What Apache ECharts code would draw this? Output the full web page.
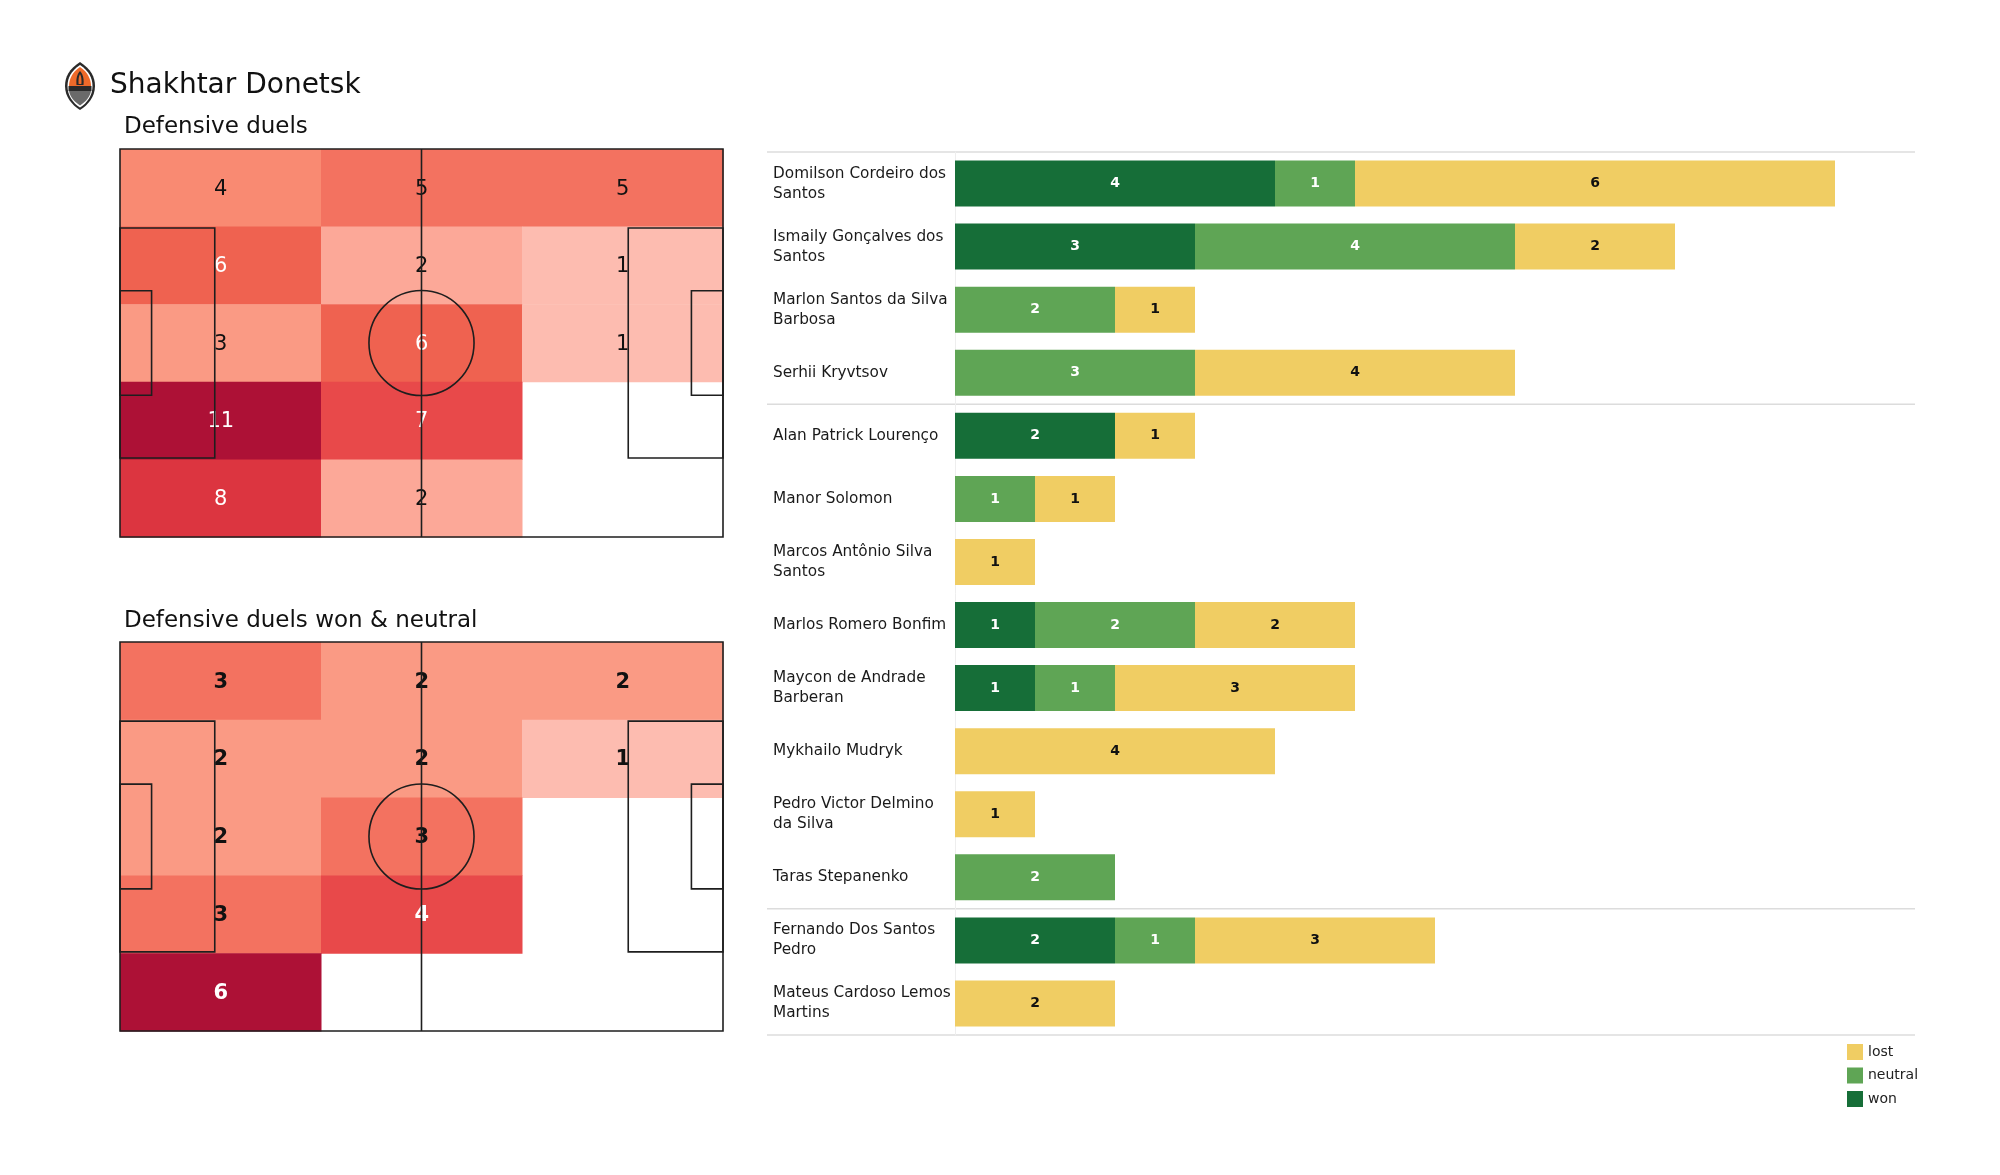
<!DOCTYPE html>
<html><head><meta charset="utf-8">
<script src="https://cdn.jsdelivr.net/npm/echarts@6/dist/echarts.min.js"></script>
<style>html,body{margin:0;padding:0;background:#fff}#c{width:2000px;height:1175px}</style>
</head><body><div id="c"></div>
<script>
// ---------- DATA ----------
const teamName = 'Shakhtar Donetsk';
const heatTitles = ['Defensive duels', 'Defensive duels won & neutral'];
// pitch zones: rows top -> bottom, columns left -> right
const duelsAll = [
  [4, 5, 5],
  [6, 2, 1],
  [3, 6, 1],
  [11, 7, 0],
  [8, 2, 0]
];
const duelsWonNeutral = [
  [3, 2, 2],
  [2, 2, 1],
  [2, 3, 0],
  [3, 4, 0],
  [6, 0, 0]
];
const players = [
  'Domilson Cordeiro dos Santos', 'Ismaily Gonçalves dos Santos', 'Marlon Santos da Silva Barbosa',
  'Serhii Kryvtsov', 'Alan Patrick Lourenço', 'Manor Solomon', 'Marcos Antônio Silva Santos',
  'Marlos Romero Bonfim', 'Maycon de Andrade Barberan', 'Mykhailo Mudryk',
  'Pedro Victor Delmino da Silva', 'Taras Stepanenko', 'Fernando Dos Santos Pedro',
  'Mateus Cardoso Lemos Martins'
];
const positions = ['DF','DF','DF','DF','MF','MF','MF','MF','MF','MF','MF','MF','FW','FW'];
const won     = [4, 3, 0, 0, 2, 0, 0, 1, 1, 0, 0, 0, 2, 0];
const neutral = [1, 4, 2, 3, 0, 1, 0, 2, 1, 0, 0, 2, 1, 0];
const lost    = [6, 2, 1, 4, 1, 1, 1, 2, 3, 4, 1, 0, 3, 2];
const outcomeNames = ['won', 'neutral', 'lost'];
const legendOrder = ['lost', 'neutral', 'won'];

// ---------- CONSTANTS / STYLE ----------
const PITCH_L = 105, PITCH_W = 68, NCOLS = 3, NROWS = 5;
const FONT = 'DejaVu Sans';
const heatColors = ['#FDBCB0','#FCA898','#FA9A84','#F98A72','#F37260','#EF6250','#E8494A','#DC3540','#CD2A3C','#BD1D39','#AD1136'];
const outcomeColors = { won: '#166E38', neutral: '#5FA555', lost: '#F0CD63' };
const outcomeLabelColors = { won: '#ffffff', neutral: '#ffffff', lost: '#111111' };
const LINE = '#1e1e1e';

function cellData(m) {
  const out = [];
  m.forEach((row, r) => row.forEach((v, c) => out.push([c, r, v])));
  return out;
}
function nonZeroMin(m) { return Math.min(...m.flat().filter(v => v > 0)); }
function maxOf(m) { return Math.max(...m.flat()); }

function cellRenderer(matrix, bold) {
  const vmax = maxOf(matrix), vmin = nonZeroMin(matrix);
  return function (params, api) {
    const c = api.value(0), r = api.value(1), v = api.value(2);
    if (!v) return null;
    const cw = PITCH_L / NCOLS, rh = PITCH_W / NROWS;
    const p0 = api.coord([c * cw, r * rh]);
    const p1 = api.coord([(c + 1) * cw, (r + 1) * rh]);
    const t = (v - vmin) / (vmax - vmin);
    return {
      type: 'rect',
      shape: { x: Math.min(p0[0], p1[0]), y: Math.min(p0[1], p1[1]),
               width: Math.abs(p1[0] - p0[0]) + 0.5, height: Math.abs(p1[1] - p0[1]) + 0.5 },
      style: { fill: api.visual('color') },
      textContent: { style: { text: String(v), fill: t >= 0.5 ? '#ffffff' : '#111111',
        fontSize: 21, fontWeight: bold ? 'bold' : 'normal', fontFamily: FONT } },
      textConfig: { position: 'inside', offset: [0, 1] }
    };
  };
}

function pitchRenderer(params, api) {
  const ln = { stroke: LINE, lineWidth: 1.6, fill: null };
  function rectM(x0, y0, x1, y1) {
    const a = api.coord([x0, y0]), b = api.coord([x1, y1]);
    return { type: 'rect', shape: { x: Math.min(a[0], b[0]), y: Math.min(a[1], b[1]),
      width: Math.abs(b[0] - a[0]), height: Math.abs(b[1] - a[1]) }, style: ln };
  }
  const boxW = 40.32, boxD = 16.5, sixW = 18.32, sixD = 5.5, circR = 9.15;
  const mid = api.coord([PITCH_L / 2, PITCH_W / 2]);
  const top = api.coord([PITCH_L / 2, 0]), bot = api.coord([PITCH_L / 2, PITCH_W]);
  const rpx = api.size([circR, 0])[0];
  return {
    type: 'group',
    children: [
      rectM(0, 0, PITCH_L, PITCH_W),
      { type: 'line', shape: { x1: top[0], y1: top[1], x2: bot[0], y2: bot[1] }, style: ln },
      { type: 'circle', shape: { cx: mid[0], cy: mid[1], r: rpx }, style: ln },
      rectM(0, (PITCH_W - boxW) / 2, boxD, (PITCH_W + boxW) / 2),
      rectM(0, (PITCH_W - sixW) / 2, sixD, (PITCH_W + sixW) / 2),
      rectM(PITCH_L - boxD, (PITCH_W - boxW) / 2, PITCH_L, (PITCH_W + boxW) / 2),
      rectM(PITCH_L - sixD, (PITCH_W - sixW) / 2, PITCH_L, (PITCH_W + sixW) / 2)
    ]
  };
}

function wrap(s, w) {
  const words = s.split(' '), lines = [];
  let cur = '';
  words.forEach(wd => {
    if (!cur) cur = wd;
    else if ((cur + ' ' + wd).length <= w) cur += ' ' + wd;
    else { lines.push(cur); cur = wd; }
  });
  if (cur) lines.push(cur);
  return lines.join('\n');
}

// group boundaries from positions
const boundaries = [0];
positions.forEach((p, i) => { if (i > 0 && p !== positions[i - 1]) boundaries.push(i); });
boundaries.push(positions.length);

const logoSvg = "<svg xmlns='http://www.w3.org/2000/svg' width='32' height='50' viewBox='0 0 32 50'>" +
  "<path d='M16 1 C5 8 1 16 1 25 C1 36 8 44 16 49 C24 44 31 36 31 25 C31 16 27 8 16 1Z' fill='#2a2a2a'/>" +
  "<path d='M16 4 C7 10 3.5 17 3.5 25 C3.5 35 9 42 16 46.5 C23 42 28.5 35 28.5 25 C28.5 17 25 10 16 4Z' fill='#ffffff'/>" +
  "<path d='M16 6 C8.5 11 5 18 5 25 L27 25 C27 18 23.5 11 16 6Z' fill='#EE6A2A'/>" +
  "<path d='M16 10 C12.5 14 12 18.5 12.5 24 L19.5 24 C20 18.5 19.5 14 16 10Z' fill='#2a2a2a'/>" +
  "<path d='M16 13 C14.5 16 14.3 19 14.6 23 L17.4 23 C17.7 19 17.5 16 16 13Z' fill='#EE6A2A'/>" +
  "<rect x='4.5' y='25' width='23' height='5' fill='#2a2a2a'/>" +
  "<path d='M5 30 L27 30 C26 36 21.5 41 16 44.5 C10.5 41 6 36 5 30Z' fill='#6a6a6a'/>" +
  "</svg>";

const chart = echarts.init(document.getElementById('c'), null, { renderer: 'canvas' });

const barSeries = outcomeNames.map(name => ({
  name: name,
  type: 'bar',
  stack: 'duels',
  xAxisIndex: 2, yAxisIndex: 2,
  barWidth: 46,
  itemStyle: { color: outcomeColors[name] },
  label: {
    show: true, position: 'inside',
    color: outcomeLabelColors[name], fontFamily: FONT, fontWeight: 'bold', fontSize: 14,
    formatter: p => (p.value > 0 ? String(p.value) : '')
  },
  data: ({ won: won, neutral: neutral, lost: lost })[name]
}));

const option = {
  animation: false,
  backgroundColor: '#ffffff',
  textStyle: { fontFamily: FONT },
  title: [
    { text: teamName, left: 110, top: 72, padding: 0,
      textStyle: { fontFamily: FONT, fontSize: 28, fontWeight: 'normal', color: '#111' } },
    { text: heatTitles[0], left: 124, top: 116, padding: 0,
      textStyle: { fontFamily: FONT, fontSize: 23, fontWeight: 'normal', color: '#111' } },
    { text: heatTitles[1], left: 124, top: 610, padding: 0,
      textStyle: { fontFamily: FONT, fontSize: 23, fontWeight: 'normal', color: '#111' } }
  ],
  graphic: [
    { type: 'image', left: 64, top: 61,
      style: { image: 'data:image/svg+xml;charset=utf-8,' + encodeURIComponent(logoSvg), width: 32, height: 50 } }
  ],
  legend: {
    data: legendOrder,
    orient: 'vertical', left: 1842, top: 1039,
    icon: 'rect', itemWidth: 16, itemHeight: 16, itemGap: 7.5,
    textStyle: { fontFamily: FONT, fontSize: 14, color: '#222' }
  },
  visualMap: [
    { type: 'continuous', show: false, seriesIndex: 0, dimension: 2,
      min: nonZeroMin(duelsAll), max: maxOf(duelsAll), inRange: { color: heatColors } },
    { type: 'continuous', show: false, seriesIndex: 2, dimension: 2,
      min: nonZeroMin(duelsWonNeutral), max: maxOf(duelsWonNeutral), inRange: { color: heatColors } }
  ],
  grid: [
    { left: 120, top: 149, width: 603, height: 388 },
    { left: 120, top: 642, width: 603, height: 389 },
    { left: 955, top: 152, width: 960, height: 883 }
  ],
  xAxis: [
    { gridIndex: 0, type: 'value', min: 0, max: PITCH_L, show: false },
    { gridIndex: 1, type: 'value', min: 0, max: PITCH_L, show: false },
    { gridIndex: 2, type: 'value', min: 0, max: 12, show: false }
  ],
  yAxis: [
    { gridIndex: 0, type: 'value', min: 0, max: PITCH_W, inverse: true, show: false },
    { gridIndex: 1, type: 'value', min: 0, max: PITCH_W, inverse: true, show: false },
    { gridIndex: 2, type: 'category', inverse: true, data: players,
      axisLine: { show: true, lineStyle: { color: '#eeeeee', width: 1 } },
      axisTick: { show: false },
      splitLine: { show: false },
      axisLabel: { align: 'left', margin: 182, fontFamily: FONT, fontSize: 15.3, lineHeight: 20,
        padding: [11, 0, 0, 0],
        color: '#1a1a1a', formatter: v => wrap(v, 22) } }
  ],
  series: [
    { type: 'custom', xAxisIndex: 0, yAxisIndex: 0, data: cellData(duelsAll),
      renderItem: cellRenderer(duelsAll, false), z: 1, clip: false },
    { type: 'custom', xAxisIndex: 0, yAxisIndex: 0, data: [[0, 0]],
      renderItem: pitchRenderer, z: 3, clip: false, silent: true },
    { type: 'custom', xAxisIndex: 1, yAxisIndex: 1, data: cellData(duelsWonNeutral),
      renderItem: cellRenderer(duelsWonNeutral, true), z: 1, clip: false },
    { type: 'custom', xAxisIndex: 1, yAxisIndex: 1, data: [[0, 0]],
      renderItem: pitchRenderer, z: 3, clip: false, silent: true },
    { type: 'custom', xAxisIndex: 2, yAxisIndex: 2, clip: false, silent: true, z: 0,
      data: boundaries.map(b => [0, b]),
      renderItem: function (params, api) {
        const b = api.value(1);
        const band = api.size([0, 1])[1];
        const y = b === 0 ? api.coord([0, 0])[1] - band / 2 : api.coord([0, b - 1])[1] + band / 2;
        const xr = api.coord([12, 0])[0];
        return { type: 'line', shape: { x1: 767, y1: y, x2: xr, y2: y },
          style: { stroke: '#dcdcdc', lineWidth: 1.5 } };
      } }
  ].concat(barSeries)
};
chart.setOption(option);
</script>
</body></html>
